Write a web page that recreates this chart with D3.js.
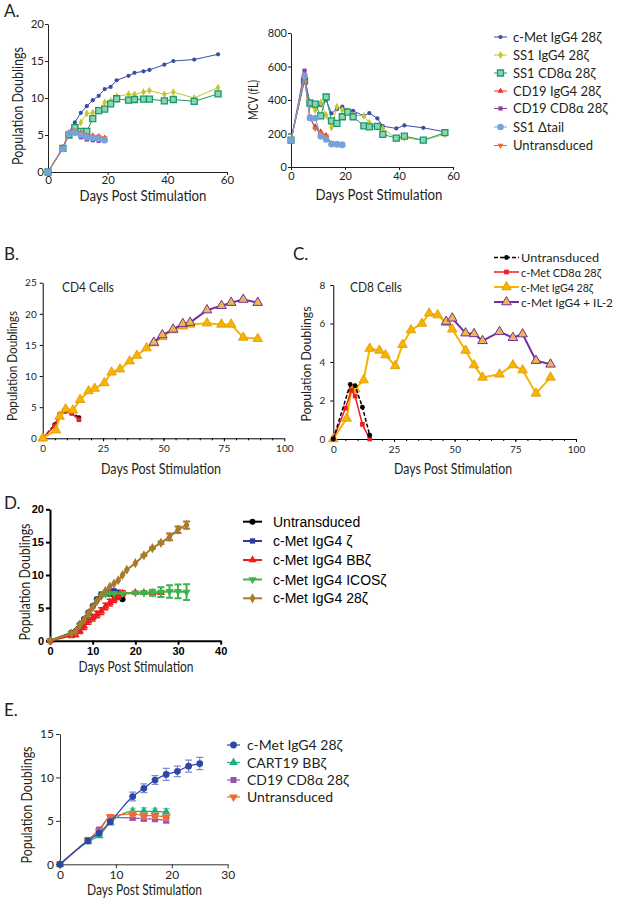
<!DOCTYPE html>
<html><head><meta charset="utf-8">
<script src="https://cdn.jsdelivr.net/npm/d3@7"></script>
<style>body{margin:0;background:#fff}svg{display:block}</style>
</head><body>
<svg id="c" width="619" height="900"></svg>
<script>
// ---------- Panel A (population doublings) ----------
const daysA = [0,5,7,9,11,13,15,17,19,21,23,27,29,32,34,39,42,49,57];
const daysAShort = [0,5,7,9,11,13,15,17,19];
const pdA_cMet = [0,3.3,5.3,6.7,8.0,8.9,9.7,10.3,11.2,11.5,12.4,13.0,13.4,13.6,13.8,14.5,15.0,15.2,15.9];
const pdA_SS1IgG4 = [0,3.2,5.2,5.6,6.7,7.9,8.0,8.35,9.4,9.6,10.2,10.5,10.5,10.8,11.0,10.5,10.8,10.0,11.4];
const pdA_SS1CD8 = [0,3.2,5.0,6.0,5.5,5.5,7.2,8.3,8.5,9.2,9.9,9.7,9.8,9.85,9.85,9.6,9.8,9.55,10.55];
const pdA_CD19IgG4 = [0,3.3,5.3,5.5,5.3,4.9,4.9,4.8,4.6];
const pdA_CD19CD8 = [0,3.2,5.2,5.3,4.7,4.4,4.3,4.2,4.2];
const pdA_SS1dtail = [0,3.1,5.2,5.3,5.0,4.7,4.6,4.5,4.3];
const pdA_untr = [0,3.3,5.3,5.6,5.3,5.0,4.8,4.8,4.6];
// ---------- Panel A (MCV) ----------
const mcv_cMet = [160,540,380,360,370,400,320,345,360,340,335,305,322,290,244,230,248,234,210];
const mcv_SS1IgG4 = [160,525,365,340,385,310,235,360,340,335,310,305,265,240,230,170,175,160,195];
const mcv_SS1CD8 = [160,515,382,375,305,418,275,260,300,328,300,245,240,243,195,172,184,160,205];
const mcv_CD19IgG4 = [160,530,290,240,210,190,140,138,135];
const mcv_CD19CD8 = [160,575,300,235,195,170,140,138,135];
const mcv_SS1dtail = [160,545,292,293,183,164,136,135,132];
const mcv_untr = [160,530,295,230,205,185,145,140,135];
const legendA = ["c-Met IgG4 28\u03b6","SS1 IgG4 28\u03b6","SS1 CD8\u03b1 28\u03b6","CD19 IgG4 28\u03b6","CD19 CD8\u03b1 28\u03b6","SS1 \u0394tail","Untransduced"];
// ---------- Panel B (CD4) ----------
const daysB_main = [0,5.5,7,9.5,12.5,15.5,19,21.5,25.5,28.5,32,36,39,43,46,49.5,54,58,61,68,74,78,83,89];
const pdB_main = [0,1.3,3.5,4.7,4.5,6.2,7.6,8.0,8.9,10.6,11.1,12.4,13.3,14.5,15.3,16.3,17.4,18.0,18.3,18.5,18.3,18.3,16.2,16.0];
const daysB_IL2 = [46,49.5,54,58,61,68,74,78,83,89];
const pdB_IL2 = [15.4,16.6,17.5,18.4,18.6,20.6,21.3,21.8,22.3,21.8];
const daysB_early = [0,5,7,9,12,15];
const pdB_CD8a = [0,2.0,3.8,4.3,4.0,3.0];
const pdB_untr = [0,2.2,3.7,4.5,4.3,3.3];
// ---------- Panel C (CD8) ----------
const daysC_main = [0,5.5,7.5,9,12.5,15,19,21.5,25.5,28.5,32,36.5,39.5,43,46.5,49,54.5,58,61.5,68.5,74,78,83.5,89.5];
const pdC_main = [0,1.07,2.55,2.6,3.06,4.7,4.6,4.36,3.8,4.9,5.66,6.0,6.53,6.44,6.04,5.7,4.6,3.84,3.2,3.36,3.84,3.58,2.37,3.2];
const daysC_IL2 = [46.5,49,54.5,58,61.5,68.5,74,78,83.5,89.5];
const pdC_IL2 = [6.1,6.27,5.5,5.46,5.1,5.57,5.26,5.45,4.07,3.88];
const daysC_untr = [0,7,9,12,15];
const pdC_untr = [0,2.84,2.77,1.65,0.2];
const daysC_CD8a = [0,5,7.5,9,12,15];
const pdC_CD8a = [0,1.6,2.55,2.23,0.76,0];
const legendC = ["Untransduced","c-Met  CD8\u03b1 28\u03b6","c-Met IgG4 28\u03b6","c-Met IgG4 + IL-2"];
// ---------- Panel D ----------
const daysD_untr = [0,5,7,8,9,10,11,12,13,14,15,16,17];
const pdD_untr = [0,1.2,2.5,3.3,4.3,5.3,6.3,7.0,7.2,7.1,6.9,6.6,6.3];
const daysD_z = [0,5,7,8,9,10,11,12,13,14,15,16,17];
const pdD_z = [0,1.1,2.3,3.2,4.2,5.2,6.3,7.1,7.3,7.5,7.6,7.4,7.3];
const daysD_BB = [0,5,6,7,8,9,10,11,12,13,14,15,16,17,20,22,24,26];
const pdD_BB = [0,0.8,0.9,1.5,2.2,3.0,3.5,4.0,4.5,5.2,5.8,6.3,6.8,7.2,7.3,7.3,7.3,7.3];
const errD_BB = [0,0.3,0.3,0.4,0.5,0.5,0.5,0.5,0.5,0.5,0.5,0.5,0.5,0.4,0.2,0.2,0.2,0.2];
const daysD_ICOS = [0,5,7,9,11,12,13,14,15,17,20,22,24,26,28,30,32];
const pdD_ICOS = [0,1.1,2.3,4.0,6.0,6.8,7.1,7.2,7.2,7.2,7.3,7.3,7.3,7.4,7.5,7.5,7.4];
const errD_ICOS = [0,0,0,0,0,0,0,0,0,0,0.1,0.2,0.45,0.75,0.95,1.05,1.2];
const daysD_28 = [0,5,6,7,8,9,10,11,12,13,14,15,16,17,18,20,22,24,26,28,30,32];
const pdD_28 = [0,1.1,1.4,2.5,3.2,4.2,5.1,6.0,6.8,7.6,8.2,8.7,9.2,10.0,10.8,11.8,13.0,14.1,14.9,15.8,16.9,17.6];
const errD_28 = [0,0,0,0,0,0,0,0,0,0,0,0,0,0,0,0,0.1,0.1,0.2,0.5,0.5,0.55];
const legendD = ["Untransduced","c-Met IgG4 \u03b6","c-Met IgG4 BB\u03b6","c-Met IgG4 ICOS\u03b6","c-Met IgG4 28\u03b6"];
// ---------- Panel E ----------
const daysE_long = [0,5,7,9,13,15,17,19,21,23,25];
const pdE_cMet = [0,2.7,3.6,4.9,7.8,8.75,9.7,10.35,10.7,11.3,11.6];
const errE_cMet = [0,0.2,0.2,0.3,0.5,0.5,0.5,0.7,0.6,0.7,0.7];
const daysE_short = [0,5,7,9,13,15,17,19];
const pdE_CART19 = [0,2.6,3.3,4.8,6.1,6.1,6.1,6.0];
const errE_CART19 = [0,0.1,0.2,0.3,0.35,0.4,0.35,0.4];
const pdE_CD19 = [0,2.8,4.0,5.4,5.35,5.25,5.2,5.05];
const errE_CD19 = [0,0.1,0.2,0.2,0.3,0.3,0.3,0.3];
const pdE_untr = [0,2.8,3.8,5.5,5.8,5.6,5.6,5.4];
const errE_untr = [0,0.1,0.2,0.2,0.3,0.3,0.3,0.3];
const legendE = ["c-Met IgG4 28\u03b6","CART19 BB\u03b6","CD19 CD8\u03b1 28\u03b6","Untransduced"];

// ================= drawing =================
const svg = d3.select("#c");
const MY = "Lato, 'Noto Sans', sans-serif";
const AR = "'Liberation Sans', Arial, sans-serif";
const symMap = {circle:d3.symbolCircle, square:d3.symbolSquare, triangle:d3.symbolTriangle, tdown:d3.symbolTriangle, diamond:d3.symbolDiamond};

function txt(x,y,s,o={}){
  const t = svg.append("text").attr("x",x).attr("y",y).text(s)
    .attr("font-family",o.ff||MY).attr("font-size",o.fs||14)
    .attr("fill",o.fill||"#231f20").attr("text-anchor",o.anchor||"start");
  if(o.fw) t.attr("font-weight",o.fw);
  if(o.rot) t.attr("transform",`rotate(${o.rot},${x},${y})`);
  if(o.w) t.attr("textLength",o.w).attr("lengthAdjust","spacingAndGlyphs");
  return t;
}
function axes(o){
  const x = d3.scaleLinear().domain(o.xd).range([o.l,o.r]);
  const y = d3.scaleLinear().domain(o.yd).range([o.b,o.t]);
  const gx = svg.append("g").attr("transform",`translate(0,${o.b})`)
    .call(d3.axisBottom(x).tickValues(o.xt).tickSize(o.ts).tickPadding(o.tpx).tickSizeOuter(0));
  const gy = svg.append("g").attr("transform",`translate(${o.l},0)`)
    .call(d3.axisLeft(y).tickValues(o.yt).tickSize(o.ts).tickPadding(o.tpy).tickSizeOuter(0));
  [gx,gy].forEach(g=>{
    g.attr("font-family",o.ff).attr("font-size",o.fs);
    if(o.fw) g.attr("font-weight",o.fw);
    g.selectAll("path,line").attr("stroke",o.ac).attr("stroke-width",o.aw);
    g.selectAll("text").attr("fill",o.tc);
  });
  if(o.minor){
    const gm = svg.append("g").attr("transform",`translate(0,${o.b})`)
      .call(d3.axisBottom(x).tickValues(o.minor).tickSize(2).tickFormat("").tickSizeOuter(0));
    gm.select("path").remove();
    gm.selectAll("line").attr("stroke",o.ac).attr("stroke-width",o.aw);
  }
  return {x,y};
}
function marker(g,px,py,m){
  g.append("path").attr("d",d3.symbol(symMap[m.type],m.size)())
   .attr("transform",`translate(${px},${py})${m.type==="tdown"?" rotate(180)":""}`)
   .attr("fill",m.fill).attr("stroke",m.stroke||"none").attr("stroke-width",m.msw||1);
}
function series(P,days,vals,st){
  const g = svg.append("g");
  if(st.err){
    days.forEach((d,i)=>{
      const e = st.err[i]; if(!e) return;
      const cx = P.x(d), y1 = P.y(vals[i]-e), y2 = P.y(vals[i]+e), c = st.cap||3;
      g.append("path").attr("d",`M${cx},${y1}V${y2}M${cx-c},${y1}H${cx+c}M${cx-c},${y2}H${cx+c}`)
        .attr("stroke",st.ecolor||st.color).attr("stroke-width",st.esw||1).attr("fill","none");
    });
  }
  const line = d3.line().x((d,i)=>P.x(days[i])).y(d=>P.y(d)).curve(st.curve||d3.curveLinear);
  g.append("path").datum(vals).attr("d",line).attr("fill","none")
    .attr("stroke",st.color).attr("stroke-width",st.sw||1)
    .attr("stroke-dasharray",st.dash||null);
  if(st.m) days.forEach((d,i)=>marker(g,P.x(d),P.y(vals[i]),st.m));
}
function legendRow(x1,x2,y,label,st,to){
  const g = svg.append("g");
  g.append("line").attr("x1",x1).attr("x2",x2).attr("y1",y).attr("y2",y)
   .attr("stroke",st.color).attr("stroke-width",st.sw||1).attr("stroke-dasharray",st.dash||null);
  if(st.m) marker(g,(x1+x2)/2,y,st.m);
  txt(to.x,y+to.dy,label,to);
}

// ---------- A styles ----------
const stA = [
  {color:"#3b4fa3", m:{type:"circle",size:14,fill:"#3b4fa3"}},
  {color:"#c4c42c", m:{type:"diamond",size:18,fill:"#c4c42c"}},
  {color:"#17996a", m:{type:"square",size:36,fill:"#8fd4b0",stroke:"#17996a",msw:1.3}},
  {color:"#e8322a", m:{type:"triangle",size:16,fill:"#e8322a"}},
  {color:"#8b3f9f", m:{type:"square",size:18,fill:"#8b3f9f"}},
  {color:"#74a3dc", m:{type:"circle",size:34,fill:"#74a3dc"}},
  {color:"#f06a2a", m:{type:"tdown",size:16,fill:"#f06a2a"}}
];
// A left
txt(4,17,"A.",{fs:17});
const PA = axes({l:48,r:227,t:24,b:172,xd:[0,60],yd:[0,20],xt:[0,20,40,60],yt:[0,5,10,15,20],
  ts:3,tpx:1,tpy:1,ff:MY,fs:11.5,ac:"#231f20",aw:1,tc:"#231f20"});
series(PA,daysA,pdA_cMet,stA[0]);
series(PA,daysA,pdA_SS1IgG4,stA[1]);
series(PA,daysA,pdA_SS1CD8,stA[2]);
series(PA,daysAShort,pdA_CD19IgG4,stA[3]);
series(PA,daysAShort,pdA_CD19CD8,stA[4]);
series(PA,daysAShort,pdA_untr,stA[6]);
series(PA,daysAShort,pdA_SS1dtail,stA[5]);
txt(143,201,"Days Post Stimulation",{fs:14.5,anchor:"middle",w:127});
txt(23,106,"Population Doublings",{fs:14.5,anchor:"middle",rot:-90,w:118});
// A MCV
const PM = axes({l:291,r:453,t:33,b:167,xd:[0,60],yd:[0,800],xt:[0,20,40,60],yt:[0,200,400,600,800],
  ts:3,tpx:2,tpy:1,ff:MY,fs:11,ac:"#231f20",aw:1,tc:"#231f20"});
series(PM,daysA,mcv_cMet,stA[0]);
series(PM,daysA,mcv_SS1IgG4,stA[1]);
series(PM,daysA,mcv_SS1CD8,stA[2]);
series(PM,daysAShort,mcv_CD19IgG4,stA[3]);
series(PM,daysAShort,mcv_CD19CD8,stA[4]);
series(PM,daysAShort,mcv_untr,stA[6]);
series(PM,daysAShort,mcv_SS1dtail,stA[5]);
txt(379,200,"Days Post Stimulation",{fs:14.5,anchor:"middle",w:127});
txt(258,100,"MCV (fL)",{fs:14,anchor:"middle",rot:-90,w:40});
// A legend
const legAy = [37,55,73,91,108.5,127,145.5];
legendA.forEach((s,i)=>legendRow(494,507,legAy[i],s,stA[i],{x:513,dy:4.5,fs:13}));

// ---------- B / C styles ----------
const yel = {color:"#f8b400", sw:2, m:{type:"triangle",size:40,fill:"#f8b400",stroke:"#d99a00",msw:0.8}};
const pur = {color:"#7030a0", sw:2, m:{type:"triangle",size:40,fill:"#eeb84a",stroke:"#7030a0",msw:1}};
const redBC = {color:"#ee1c24", sw:1.5, m:{type:"square",size:22,fill:"#ee1c24"}};
const blkBC = {color:"#000", sw:1.5, dash:"4,2", m:{type:"circle",size:18,fill:"#000"}};
// B
txt(4,260,"B.",{fs:17});
const PB = axes({l:42.7,r:284.3,t:282.7,b:438.3,xd:[0,100],yd:[0,25],xt:[0,25,50,75,100],yt:[0,5,10,15,20,25],
  ts:3,tpx:4,tpy:3,ff:MY,fs:10,ac:"#000",aw:1,tc:"#231f20",minor:d3.range(5,100,5)});
series(PB,daysB_early,pdB_untr,blkBC);
series(PB,daysB_early,pdB_CD8a,redBC);
series(PB,daysB_main,pdB_main,yel);
series(PB,daysB_IL2,pdB_IL2,pur);
txt(62,292,"CD4 Cells",{fs:13,w:52});
txt(161,474,"Days Post Stimulation",{fs:15,anchor:"middle",w:120});
txt(17,366,"Population Doublings",{fs:14,anchor:"middle",rot:-90,w:110});
// C
txt(293,260,"C.",{fs:17});
const PC = axes({l:333.3,r:576,t:285,b:439,xd:[0,100],yd:[0,8],xt:[0,25,50,75,100],yt:[0,2,4,6,8],
  ts:3,tpx:4,tpy:5,ff:MY,fs:10,ac:"#000",aw:1,tc:"#231f20",minor:d3.range(5,100,5)});
series(PC,daysC_main,pdC_main,yel);
series(PC,daysC_IL2,pdC_IL2,pur);
series(PC,daysC_CD8a,pdC_CD8a,redBC);
series(PC,daysC_untr,pdC_untr,blkBC);
txt(350,292,"CD8 Cells",{fs:13,w:52});
txt(453,474,"Days Post Stimulation",{fs:15,anchor:"middle",w:118});
txt(311,364,"Population Doublings",{fs:14,anchor:"middle",rot:-90,w:115});
const legCy = [257.5,272,287,302];
const legCw = [78,80,72,92];
[blkBC,redBC,yel,pur].forEach((st,i)=>legendRow(494,519,legCy[i],legendC[i],st,{x:521,dy:4.5,fs:12,w:legCw[i]}));

// ---------- D ----------
txt(4,509,"D.",{fs:17});
const stD = [
  {color:"#000", sw:2, m:{type:"circle",size:28,fill:"#000"}},
  {color:"#2b3b9c", sw:2, m:{type:"square",size:28,fill:"#2b3b9c"}},
  {color:"#f01c1c", sw:2, cap:3, esw:1.5, m:{type:"triangle",size:28,fill:"#f01c1c"}},
  {color:"#3cb44a", sw:2, cap:3.5, esw:2, m:{type:"tdown",size:28,fill:"#3cb44a"}},
  {color:"#a77a2c", sw:2, cap:3.5, esw:2, m:{type:"diamond",size:30,fill:"#a77a2c"}}
];
const PD = axes({l:50,r:220.7,t:509.3,b:640.7,xd:[0,40],yd:[0,20],xt:[0,10,20,30,40],yt:[0,5,10,15,20],
  ts:4,tpx:3,tpy:2,ff:AR,fs:11,fw:"bold",ac:"#000",aw:2,tc:"#000"});
series(PD,daysD_untr,pdD_untr,stD[0]);
series(PD,daysD_z,pdD_z,stD[1]);
series(PD,daysD_BB,pdD_BB,Object.assign({err:errD_BB},stD[2]));
series(PD,daysD_ICOS,pdD_ICOS,Object.assign({err:errD_ICOS},stD[3]));
series(PD,daysD_28,pdD_28,Object.assign({err:errD_28},stD[4]));
txt(136,672,"Days Post Stimulation",{fs:15,anchor:"middle",w:115});
txt(30,582,"Population Doublings",{fs:15,anchor:"middle",rot:-90,w:117});
const legDy = [521.7,541,560,579.5,598.3];
legendD.forEach((s,i)=>legendRow(243,262,legDy[i],s,stD[i],{x:273,dy:5,fs:14,ff:AR,fill:"#000"}));

// ---------- E ----------
txt(4,716,"E.",{fs:17});
const stE = [
  {color:"#2f45a8", sw:1.2, ecolor:"#7f8ccc", cap:3.5, esw:1.2, m:{type:"circle",size:36,fill:"#2f45a8"}},
  {color:"#1fae80", sw:1.2, ecolor:"#7fd0b4", cap:3.5, esw:1.2, m:{type:"triangle",size:34,fill:"#1fae80"}},
  {color:"#9b4fb8", sw:1.2, ecolor:"#c49ad6", cap:3.5, esw:1.2, m:{type:"square",size:36,fill:"#9b4fb8"}},
  {color:"#f26b2b", sw:1.2, ecolor:"#f6a27a", cap:3.5, esw:1.2, m:{type:"tdown",size:34,fill:"#f26b2b"}}
];
const PE = axes({l:60,r:227.7,t:734,b:864.3,xd:[0,30],yd:[0,15],xt:[0,10,20,30],yt:[0,5,10,15],
  ts:4,tpx:2,tpy:2,ff:MY,fs:12,ac:"#333",aw:1,tc:"#231f20"});
const cE = d3.curveMonotoneX;
series(PE,daysE_short,pdE_CD19,Object.assign({err:errE_CD19,curve:cE},stE[2]));
series(PE,daysE_short,pdE_CART19,Object.assign({err:errE_CART19,curve:cE},stE[1]));
series(PE,daysE_short,pdE_untr,Object.assign({err:errE_untr,curve:cE},stE[3]));
series(PE,daysE_long,pdE_cMet,Object.assign({err:errE_cMet,curve:cE},stE[0]));
txt(144.5,895,"Days Post Stimulation",{fs:15,anchor:"middle",w:115});
txt(32,805,"Population Doublings",{fs:15,anchor:"middle",rot:-90,w:117});
const legEy = [745,762.5,780,797];
legendE.forEach((s,i)=>legendRow(227,240,legEy[i],s,stE[i],{x:247,dy:5,fs:14}));
</script>
</body></html>
